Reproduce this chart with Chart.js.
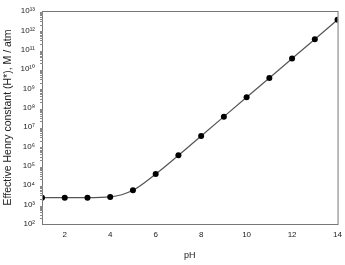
<!DOCTYPE html>
<html><head><meta charset="utf-8">
<script src="https://cdn.jsdelivr.net/npm/chart.js@4"></script>
<style>html,body{margin:0;padding:0;background:#fff}#wrap{width:345px;height:265px}</style>
</head><body><div id="wrap"><canvas id="c" width="345" height="265"></canvas></div>
<script>
const phValues = [1,2,3,4,5,6,7,8,9,10,11,12,13,14];
const henryValues = [2.3e3,2.3e3,2.3e3,2.5e3,5.5e3,3.8e4,3.5e5,3.5e6,3.5e7,3.5e8,3.5e9,3.5e10,3.5e11,3.5e12];
const xTickValues = [2,4,6,8,10,12,14];
const yTickExponents = [2,3,4,5,6,7,8,9,10,11,12,13];
const xTitle = 'pH';
const yTitle = 'Effective Henry constant (H*), M / atm';

const sup = {'0':'⁰','1':'¹','2':'²','3':'³','4':'⁴','5':'⁵','6':'⁶','7':'⁷','8':'⁸','9':'⁹'};
function powLabel(e){return '10' + String(e).split('').map(c=>sup[c]).join('');}

const frameAndMinor = {
  id:'frameAndMinor',
  afterDraw(chart){
    const ctx = chart.ctx, a = chart.chartArea, y = chart.scales.y;
    ctx.save();
    ctx.strokeStyle = '#777'; ctx.lineWidth = 1;
    ctx.strokeRect(a.left+0.5, a.top+0.5, a.right-a.left, a.bottom-a.top);
    ctx.strokeStyle = '#888';
    ctx.beginPath();
    for (let i=0;i<yTickExponents.length-1;i++){
      const e = yTickExponents[i];
      for (let m=2;m<=9;m++){
        const py = Math.round(y.getPixelForValue(m*Math.pow(10,e)))+0.5;
        ctx.moveTo(a.left-2, py); ctx.lineTo(a.left+1, py);
      }
    }
    ctx.stroke();
    ctx.restore();
  }
};

new Chart(document.getElementById('c'), {
  type:'line',
  data:{datasets:[{
    data: phValues.map((p,i)=>({x:p,y:henryValues[i]})),
    borderColor:'#555', borderWidth:1.2,
    backgroundColor:'#000', pointBackgroundColor:'#000', pointBorderColor:'#000',
    pointRadius:3, pointBorderWidth:0, cubicInterpolationMode:'monotone', fill:false
  }]},
  options:{
    responsive:false, animation:false, devicePixelRatio:1,
    layout:{padding:{left:0,right:6,top:11,bottom:4}},
    plugins:{legend:{display:false},tooltip:{enabled:false}},
    scales:{
      x:{type:'linear', min:1, max:14,
        afterBuildTicks(s){s.ticks = xTickValues.map(v=>({value:v}));},
        grid:{display:false, drawOnChartArea:false, drawTicks:true, tickLength:3, tickColor:'#666'},
        border:{color:'#777'},
        ticks:{color:'#222', font:{family:'Liberation Sans', size:8}, padding:3, maxRotation:0},
        title:{display:true, text:xTitle, color:'#222', font:{family:'Liberation Sans', size:9}, padding:{top:3,bottom:0}},
        afterFit(s){s.height = 37;}
      },
      y:{type:'logarithmic', min:1e2, max:1e13,
        afterBuildTicks(s){s.ticks = yTickExponents.map(e=>({value:Math.pow(10,e)}));},
        grid:{display:false, drawOnChartArea:false, drawTicks:true, tickLength:4, tickColor:'#666'},
        border:{color:'#777'},
        ticks:{color:'#222', font:{family:'Liberation Sans', size:8}, padding:3,
          callback(v){return powLabel(Math.round(Math.log10(v)));}},
        title:{display:true, text:yTitle, color:'#222', font:{family:'Liberation Sans', size:10.5}, padding:{top:2,bottom:4}},
        afterFit(s){s.width = 42;}
      }
    }
  },
  plugins:[frameAndMinor]
});
</script></body></html>
